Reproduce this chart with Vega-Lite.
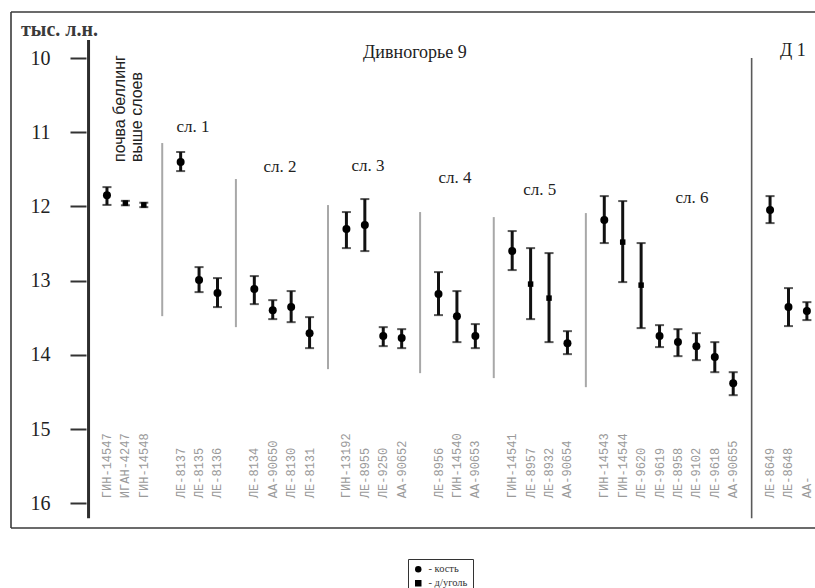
{
  "$schema": "https://vega.github.io/schema/vega-lite/v6.json",
  "autosize": {"type": "none"},
  "width": 804,
  "height": 516,
  "padding": {"left": 11, "top": 12, "right": 0, "bottom": 60},
  "background": "white",
  "view": {"stroke": null},
  "config": {
    "axis": {"labelFont": "Liberation Serif"},
    "legend": {"labelFont": "Liberation Serif"}
  },
  "datasets": {
    "samples": [
      {"label": "ГИН-14547", "pos": 1, "v": 11.85, "lo": 11.74, "hi": 11.98, "material": "кость"},
      {"label": "ИГАН-4247", "pos": 2, "v": 11.955, "lo": 11.925, "hi": 11.985, "material": "д/уголь"},
      {"label": "ГИН-14548", "pos": 3, "v": 11.98, "lo": 11.95, "hi": 12.01, "material": "д/уголь"},
      {"label": "ЛЕ-8137", "pos": 5, "v": 11.402, "lo": 11.267, "hi": 11.524, "material": "кость"},
      {"label": "ЛЕ-8135", "pos": 6, "v": 12.993, "lo": 12.818, "hi": 13.155, "material": "кость"},
      {"label": "ЛЕ-8136", "pos": 7, "v": 13.168, "lo": 12.966, "hi": 13.357, "material": "кость"},
      {"label": "ЛЕ-8134", "pos": 9, "v": 13.114, "lo": 12.939, "hi": 13.317, "material": "кость"},
      {"label": "АА-90650", "pos": 10, "v": 13.398, "lo": 13.263, "hi": 13.519, "material": "кость"},
      {"label": "ЛЕ-8130", "pos": 11, "v": 13.357, "lo": 13.141, "hi": 13.56, "material": "кость"},
      {"label": "ЛЕ-8131", "pos": 12, "v": 13.708, "lo": 13.492, "hi": 13.91, "material": "кость"},
      {"label": "ГИН-13192", "pos": 14, "v": 12.306, "lo": 12.076, "hi": 12.562, "material": "кость"},
      {"label": "ЛЕ-8955", "pos": 15, "v": 12.252, "lo": 11.901, "hi": 12.602, "material": "кость"},
      {"label": "ЛЕ-9250", "pos": 16, "v": 13.748, "lo": 13.627, "hi": 13.883, "material": "кость"},
      {"label": "АА-90652", "pos": 17, "v": 13.775, "lo": 13.654, "hi": 13.91, "material": "кость"},
      {"label": "ЛЕ-8956", "pos": 19, "v": 13.182, "lo": 12.885, "hi": 13.465, "material": "кость"},
      {"label": "ГИН-14540", "pos": 20, "v": 13.479, "lo": 13.141, "hi": 13.829, "material": "кость"},
      {"label": "АА-90653", "pos": 21, "v": 13.748, "lo": 13.586, "hi": 13.91, "material": "кость"},
      {"label": "ГИН-14541", "pos": 23, "v": 12.602, "lo": 12.332, "hi": 12.858, "material": "кость"},
      {"label": "ЛЕ-8957", "pos": 24, "v": 13.047, "lo": 12.562, "hi": 13.519, "material": "д/уголь"},
      {"label": "ЛЕ-8932", "pos": 25, "v": 13.236, "lo": 12.629, "hi": 13.829, "material": "д/уголь"},
      {"label": "АА-90654", "pos": 26, "v": 13.843, "lo": 13.681, "hi": 13.991, "material": "кость"},
      {"label": "ГИН-14543", "pos": 28, "v": 12.184, "lo": 11.861, "hi": 12.494, "material": "кость"},
      {"label": "ГИН-14544", "pos": 29, "v": 12.481, "lo": 11.928, "hi": 13.02, "material": "д/уголь"},
      {"label": "ЛЕ-9620", "pos": 30, "v": 13.061, "lo": 12.494, "hi": 13.64, "material": "д/уголь"},
      {"label": "ЛЕ-9619", "pos": 31, "v": 13.748, "lo": 13.6, "hi": 13.896, "material": "кость"},
      {"label": "ЛЕ-8958", "pos": 32, "v": 13.829, "lo": 13.654, "hi": 14.018, "material": "кость"},
      {"label": "ЛЕ-9102", "pos": 33, "v": 13.883, "lo": 13.708, "hi": 14.072, "material": "кость"},
      {"label": "ЛЕ-9618", "pos": 34, "v": 14.031, "lo": 13.829, "hi": 14.234, "material": "кость"},
      {"label": "АА-90655", "pos": 35, "v": 14.382, "lo": 14.234, "hi": 14.544, "material": "кость"},
      {"label": "ЛЕ-8649", "pos": 37, "v": 12.049, "lo": 11.861, "hi": 12.225, "material": "кость"},
      {"label": "ЛЕ-8648", "pos": 38, "v": 13.357, "lo": 13.101, "hi": 13.613, "material": "кость"},
      {"label": "АА-", "pos": 39, "v": 13.411, "lo": 13.29, "hi": 13.532, "material": "кость"}
    ],
    "lines": [
      {"kind": "axis", "pos": 0, "v": 9.757, "v2": 16.202},
      {"kind": "layer", "pos": 4, "v": 11.146, "v2": 13.479},
      {"kind": "layer", "pos": 8, "v": 11.631, "v2": 13.627},
      {"kind": "layer", "pos": 13, "v": 11.982, "v2": 14.193},
      {"kind": "layer", "pos": 18, "v": 12.076, "v2": 14.247},
      {"kind": "layer", "pos": 22, "v": 12.144, "v2": 14.314},
      {"kind": "layer", "pos": 27, "v": 12.09, "v2": 14.436},
      {"kind": "site", "pos": 36, "v": 10.0, "v2": 16.202}
    ],
    "frame": [
      {"side": "left", "pos": -4.21, "pos2": -4.21, "v": 9.38, "v2": 16.334},
      {"side": "top", "pos": -4.21, "pos2": 39.6, "v": 9.38, "v2": 9.38},
      {"side": "bottom", "pos": -4.21, "pos2": 39.6, "v": 16.334, "v2": 16.334}
    ],
    "notes": [
      {"kind": "sl", "text": "сл. 1", "pos": 5.67, "v": 10.93},
      {"kind": "sl", "text": "сл. 2", "pos": 10.39, "v": 11.47},
      {"kind": "sl", "text": "сл. 3", "pos": 15.17, "v": 11.456},
      {"kind": "sl", "text": "сл. 4", "pos": 19.89, "v": 11.62},
      {"kind": "sl", "text": "сл. 5", "pos": 24.5, "v": 11.78},
      {"kind": "sl", "text": "сл. 6", "pos": 32.76, "v": 11.89},
      {"kind": "title", "text": "Дивногорье 9", "pos": 17.72, "v": 9.93},
      {"kind": "title", "text": "Д 1", "pos": 38.24, "v": 9.906},
      {"kind": "unit", "text": "тыс. л.н.", "pos": -3.67, "v": 9.62},
      {"kind": "soil", "text": "почва  беллинг", "pos": 1.72, "v": 11.402},
      {"kind": "soil", "text": "выше слоев", "pos": 2.65, "v": 11.402}
    ]
  },
  "layer": [
    {
      "data": {"name": "frame"},
      "mark": {"type": "rule", "color": "#3a3a3a", "strokeWidth": 1.6},
      "encoding": {
        "x": {"field": "pos", "type": "quantitative", "scale": {"domain": [-4.21, 39.44], "nice": false, "zero": false}, "axis": null},
        "x2": {"field": "pos2"},
        "y": {"field": "v", "type": "quantitative", "scale": {"domain": [9.38, 16.334], "reverse": true, "nice": false, "zero": false}, "axis": {"title": null, "values": [10, 11, 12, 13, 14, 15, 16], "domain": false, "grid": false, "offset": -75, "tickSize": 16, "tickWidth": 2, "tickColor": "#333333", "labelPadding": 20, "labelFont": "Liberation Serif", "labelFontSize": 20, "labelFontWeight": "normal", "labelColor": "#222222"}},
        "y2": {"field": "v2"}
      }
    },
    {
      "data": {"name": "lines"},
      "transform": [{"filter": "datum.kind === 'axis'"}],
      "mark": {"type": "rule", "color": "#2e2e2e", "strokeWidth": 3},
      "encoding": {
        "x": {"field": "pos", "type": "quantitative", "scale": {"domain": [-4.21, 39.44], "nice": false, "zero": false}, "axis": null},
        "y": {"field": "v", "type": "quantitative", "scale": {"domain": [9.38, 16.334], "reverse": true, "nice": false, "zero": false}, "axis": {"title": null, "values": [10, 11, 12, 13, 14, 15, 16], "domain": false, "grid": false, "offset": -75, "tickSize": 16, "tickWidth": 2, "tickColor": "#333333", "labelPadding": 20, "labelFont": "Liberation Serif", "labelFontSize": 20, "labelFontWeight": "normal", "labelColor": "#222222"}},
        "y2": {"field": "v2"}
      }
    },
    {
      "data": {"name": "lines"},
      "transform": [{"filter": "datum.kind === 'layer'"}],
      "mark": {"type": "rule", "color": "#a8a8a8", "strokeWidth": 2},
      "encoding": {
        "x": {"field": "pos", "type": "quantitative", "scale": {"domain": [-4.21, 39.44], "nice": false, "zero": false}, "axis": null},
        "y": {"field": "v", "type": "quantitative", "scale": {"domain": [9.38, 16.334], "reverse": true, "nice": false, "zero": false}, "axis": {"title": null, "values": [10, 11, 12, 13, 14, 15, 16], "domain": false, "grid": false, "offset": -75, "tickSize": 16, "tickWidth": 2, "tickColor": "#333333", "labelPadding": 20, "labelFont": "Liberation Serif", "labelFontSize": 20, "labelFontWeight": "normal", "labelColor": "#222222"}},
        "y2": {"field": "v2"}
      }
    },
    {
      "data": {"name": "lines"},
      "transform": [{"filter": "datum.kind === 'site'"}],
      "mark": {"type": "rule", "color": "#5a5a5a", "strokeWidth": 1.6},
      "encoding": {
        "x": {"field": "pos", "type": "quantitative", "scale": {"domain": [-4.21, 39.44], "nice": false, "zero": false}, "axis": null},
        "y": {"field": "v", "type": "quantitative", "scale": {"domain": [9.38, 16.334], "reverse": true, "nice": false, "zero": false}, "axis": {"title": null, "values": [10, 11, 12, 13, 14, 15, 16], "domain": false, "grid": false, "offset": -75, "tickSize": 16, "tickWidth": 2, "tickColor": "#333333", "labelPadding": 20, "labelFont": "Liberation Serif", "labelFontSize": 20, "labelFontWeight": "normal", "labelColor": "#222222"}},
        "y2": {"field": "v2"}
      }
    },
    {
      "data": {"name": "samples"},
      "mark": {"type": "rule", "color": "#111111", "strokeWidth": 3},
      "encoding": {
        "x": {"field": "pos", "type": "quantitative", "scale": {"domain": [-4.21, 39.44], "nice": false, "zero": false}, "axis": null},
        "y": {"field": "lo", "type": "quantitative", "scale": {"domain": [9.38, 16.334], "reverse": true, "nice": false, "zero": false}, "axis": {"title": null, "values": [10, 11, 12, 13, 14, 15, 16], "domain": false, "grid": false, "offset": -75, "tickSize": 16, "tickWidth": 2, "tickColor": "#333333", "labelPadding": 20, "labelFont": "Liberation Serif", "labelFontSize": 20, "labelFontWeight": "normal", "labelColor": "#222222"}},
        "y2": {"field": "hi"}
      }
    },
    {
      "data": {"name": "samples"},
      "mark": {"type": "tick", "orient": "horizontal", "color": "#111111", "size": 9, "thickness": 2},
      "encoding": {
        "x": {"field": "pos", "type": "quantitative", "scale": {"domain": [-4.21, 39.44], "nice": false, "zero": false}, "axis": null},
        "y": {"field": "lo", "type": "quantitative", "scale": {"domain": [9.38, 16.334], "reverse": true, "nice": false, "zero": false}, "axis": {"title": null, "values": [10, 11, 12, 13, 14, 15, 16], "domain": false, "grid": false, "offset": -75, "tickSize": 16, "tickWidth": 2, "tickColor": "#333333", "labelPadding": 20, "labelFont": "Liberation Serif", "labelFontSize": 20, "labelFontWeight": "normal", "labelColor": "#222222"}}
      }
    },
    {
      "data": {"name": "samples"},
      "mark": {"type": "tick", "orient": "horizontal", "color": "#111111", "size": 9, "thickness": 2},
      "encoding": {
        "x": {"field": "pos", "type": "quantitative", "scale": {"domain": [-4.21, 39.44], "nice": false, "zero": false}, "axis": null},
        "y": {"field": "hi", "type": "quantitative", "scale": {"domain": [9.38, 16.334], "reverse": true, "nice": false, "zero": false}, "axis": {"title": null, "values": [10, 11, 12, 13, 14, 15, 16], "domain": false, "grid": false, "offset": -75, "tickSize": 16, "tickWidth": 2, "tickColor": "#333333", "labelPadding": 20, "labelFont": "Liberation Serif", "labelFontSize": 20, "labelFontWeight": "normal", "labelColor": "#222222"}}
      }
    },
    {
      "data": {"name": "samples"},
      "transform": [{"filter": "datum.material === 'кость'"}],
      "mark": {"type": "point", "filled": true, "opacity": 1, "color": "#000000", "size": 64},
      "encoding": {
        "x": {"field": "pos", "type": "quantitative", "scale": {"domain": [-4.21, 39.44], "nice": false, "zero": false}, "axis": null},
        "y": {"field": "v", "type": "quantitative", "scale": {"domain": [9.38, 16.334], "reverse": true, "nice": false, "zero": false}, "axis": {"title": null, "values": [10, 11, 12, 13, 14, 15, 16], "domain": false, "grid": false, "offset": -75, "tickSize": 16, "tickWidth": 2, "tickColor": "#333333", "labelPadding": 20, "labelFont": "Liberation Serif", "labelFontSize": 20, "labelFontWeight": "normal", "labelColor": "#222222"}},
        "shape": {"field": "material", "type": "nominal", "scale": {"domain": ["кость", "д/уголь"], "range": ["circle", "square"]},
          "legend": {"orient": "none", "legendX": 397, "legendY": 547, "title": null, "strokeColor": "#333333", "padding": 5, "labelExpr": "'- ' + datum.label", "labelFont": "Liberation Serif", "labelFontSize": 10.5, "labelColor": "#333333", "symbolSize": 42, "symbolFillColor": "#000000", "symbolStrokeColor": "#000000", "rowPadding": 1, "labelOffset": 5, "fillColor": "white"}}
      }
    },
    {
      "data": {"name": "samples"},
      "transform": [{"filter": "datum.material === 'д/уголь'"}],
      "mark": {"type": "point", "filled": true, "opacity": 1, "color": "#000000", "size": 30},
      "encoding": {
        "x": {"field": "pos", "type": "quantitative", "scale": {"domain": [-4.21, 39.44], "nice": false, "zero": false}, "axis": null},
        "y": {"field": "v", "type": "quantitative", "scale": {"domain": [9.38, 16.334], "reverse": true, "nice": false, "zero": false}, "axis": {"title": null, "values": [10, 11, 12, 13, 14, 15, 16], "domain": false, "grid": false, "offset": -75, "tickSize": 16, "tickWidth": 2, "tickColor": "#333333", "labelPadding": 20, "labelFont": "Liberation Serif", "labelFontSize": 20, "labelFontWeight": "normal", "labelColor": "#222222"}},
        "shape": {"field": "material", "type": "nominal", "scale": {"domain": ["кость", "д/уголь"], "range": ["circle", "square"]},
          "legend": {"orient": "none", "legendX": 397, "legendY": 547, "title": null, "strokeColor": "#333333", "padding": 5, "labelExpr": "'- ' + datum.label", "labelFont": "Liberation Serif", "labelFontSize": 10.5, "labelColor": "#333333", "symbolSize": 42, "symbolFillColor": "#000000", "symbolStrokeColor": "#000000", "rowPadding": 1, "labelOffset": 5, "fillColor": "white"}}
      }
    },
    {
      "data": {"name": "samples"},
      "mark": {"type": "text", "angle": 270, "align": "left", "baseline": "middle", "font": "Liberation Mono", "fontSize": 12, "color": "#9a9a9a"},
      "encoding": {
        "x": {"field": "pos", "type": "quantitative", "scale": {"domain": [-4.21, 39.44], "nice": false, "zero": false}, "axis": null},
        "y": {"datum": 15.932, "type": "quantitative", "scale": {"domain": [9.38, 16.334], "reverse": true, "nice": false, "zero": false}, "axis": {"title": null, "values": [10, 11, 12, 13, 14, 15, 16], "domain": false, "grid": false, "offset": -75, "tickSize": 16, "tickWidth": 2, "tickColor": "#333333", "labelPadding": 20, "labelFont": "Liberation Serif", "labelFontSize": 20, "labelFontWeight": "normal", "labelColor": "#222222"}},
        "text": {"field": "label"}
      }
    },
    {
      "data": {"name": "notes"},
      "transform": [{"filter": "datum.kind === 'sl'"}],
      "mark": {"type": "text", "align": "center", "baseline": "middle", "font": "Liberation Serif", "fontSize": 17, "color": "#222222"},
      "encoding": {
        "x": {"field": "pos", "type": "quantitative", "scale": {"domain": [-4.21, 39.44], "nice": false, "zero": false}, "axis": null},
        "y": {"field": "v", "type": "quantitative", "scale": {"domain": [9.38, 16.334], "reverse": true, "nice": false, "zero": false}, "axis": {"title": null, "values": [10, 11, 12, 13, 14, 15, 16], "domain": false, "grid": false, "offset": -75, "tickSize": 16, "tickWidth": 2, "tickColor": "#333333", "labelPadding": 20, "labelFont": "Liberation Serif", "labelFontSize": 20, "labelFontWeight": "normal", "labelColor": "#222222"}},
        "text": {"field": "text"}
      }
    },
    {
      "data": {"name": "notes"},
      "transform": [{"filter": "datum.kind === 'title'"}],
      "mark": {"type": "text", "align": "center", "baseline": "middle", "font": "Liberation Serif", "fontSize": 18, "color": "#222222"},
      "encoding": {
        "x": {"field": "pos", "type": "quantitative", "scale": {"domain": [-4.21, 39.44], "nice": false, "zero": false}, "axis": null},
        "y": {"field": "v", "type": "quantitative", "scale": {"domain": [9.38, 16.334], "reverse": true, "nice": false, "zero": false}, "axis": {"title": null, "values": [10, 11, 12, 13, 14, 15, 16], "domain": false, "grid": false, "offset": -75, "tickSize": 16, "tickWidth": 2, "tickColor": "#333333", "labelPadding": 20, "labelFont": "Liberation Serif", "labelFontSize": 20, "labelFontWeight": "normal", "labelColor": "#222222"}},
        "text": {"field": "text"}
      }
    },
    {
      "data": {"name": "notes"},
      "transform": [{"filter": "datum.kind === 'unit'"}],
      "mark": {"type": "text", "align": "left", "baseline": "middle", "font": "Liberation Serif", "fontSize": 20, "fontWeight": "bold", "color": "#3a3a3a"},
      "encoding": {
        "x": {"field": "pos", "type": "quantitative", "scale": {"domain": [-4.21, 39.44], "nice": false, "zero": false}, "axis": null},
        "y": {"field": "v", "type": "quantitative", "scale": {"domain": [9.38, 16.334], "reverse": true, "nice": false, "zero": false}, "axis": {"title": null, "values": [10, 11, 12, 13, 14, 15, 16], "domain": false, "grid": false, "offset": -75, "tickSize": 16, "tickWidth": 2, "tickColor": "#333333", "labelPadding": 20, "labelFont": "Liberation Serif", "labelFontSize": 20, "labelFontWeight": "normal", "labelColor": "#222222"}},
        "text": {"field": "text"}
      }
    },
    {
      "data": {"name": "notes"},
      "transform": [{"filter": "datum.kind === 'soil'"}],
      "mark": {"type": "text", "angle": 270, "align": "left", "baseline": "middle", "font": "Liberation Sans", "fontSize": 16, "color": "#222222"},
      "encoding": {
        "x": {"field": "pos", "type": "quantitative", "scale": {"domain": [-4.21, 39.44], "nice": false, "zero": false}, "axis": null},
        "y": {"field": "v", "type": "quantitative", "scale": {"domain": [9.38, 16.334], "reverse": true, "nice": false, "zero": false}, "axis": {"title": null, "values": [10, 11, 12, 13, 14, 15, 16], "domain": false, "grid": false, "offset": -75, "tickSize": 16, "tickWidth": 2, "tickColor": "#333333", "labelPadding": 20, "labelFont": "Liberation Serif", "labelFontSize": 20, "labelFontWeight": "normal", "labelColor": "#222222"}},
        "text": {"field": "text"}
      }
    }
  ]
}
